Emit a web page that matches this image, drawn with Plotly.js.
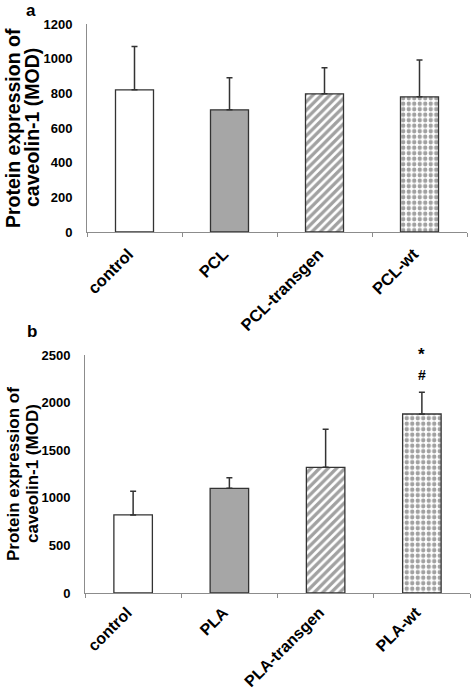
<!DOCTYPE html>
<html>
<head>
<meta charset="utf-8">
<script src="https://cdn.plot.ly/plotly-3.0.1.min.js"></script>
<style>html,body{margin:0;padding:0;background:#fff;}#chart{width:472px;height:692px;}</style>
</head>
<body>
<div id="chart"></div>
<script>
// ---- data ----
const categoriesA = ['control', 'PCL', 'PCL-transgen', 'PCL-wt'];
const meansA = [820, 705, 797, 780];
const errorsA = [250, 185, 150, 212];
const yTicksA = [0, 200, 400, 600, 800, 1000, 1200];

const categoriesB = ['control', 'PLA', 'PLA-transgen', 'PLA-wt'];
const meansB = [820, 1100, 1320, 1880];
const errorsB = [250, 110, 400, 230];
const yTicksB = [0, 500, 1000, 1500, 2000, 2500];

const sigMarks = ['*', '#'];
const sigCategory = 'PLA-wt';

const yTitleLines = ['Protein expression of', 'caveolin-1 (MOD)'];
const panelLabels = ['a', 'b'];

// ---- styling ----
const W = 472, H = 692;
const FONT = 'Liberation Sans, Arial, sans-serif';
const AXIS = '#8c8c8c';
const EDGE = '#333333';
const px = x => x / W;
const py = y => 1 - y / H;

const fills = ['#ffffff', '#a6a6a6', '#ffffff', '#ffffff'];
const patShape = ['', '', '/', '.'];
const patFg = ['#ffffff', '#a6a6a6', '#3a3a3a', '#555555'];
const patSize = [6, 6, 6, 5.5];
const patSolid = [0.3, 0.3, 0.55, 0.5];

function barTrace(cats, vals, errs, xa, ya) {
  return {
    type: 'bar', x: cats, y: vals, xaxis: xa, yaxis: ya,
    marker: {
      color: fills,
      line: {color: EDGE, width: 1.3},
      pattern: {shape: patShape, fgcolor: patFg, bgcolor: fills, size: patSize, solidity: patSolid, fillmode: 'overlay'}
    },
    error_y: {type: 'data', array: errs, arrayminus: vals.map(() => 0), symmetric: false,
              color: EDGE, thickness: 1.5, width: 3},
    showlegend: false, hoverinfo: 'skip'
  };
}

const data = [
  barTrace(categoriesA, meansA, errorsA, 'x', 'y'),
  barTrace(categoriesB, meansB, errorsB, 'x2', 'y2')
];

const tickFont = {family: FONT, size: 13, color: '#000', weight: 700};

function xAxis(domain, anchor, fs, standoff) {
  return {
    domain: domain, anchor: anchor, type: 'category', range: [-0.5, 3.5],
    showline: true, linecolor: AXIS, linewidth: 1,
    ticks: 'outside', tickson: 'boundaries', ticklen: 4, tickcolor: AXIS, tickwidth: 1,
    tickangle: -45, tickfont: {family: FONT, size: fs, color: '#000', weight: 700},
    showgrid: false, zeroline: false,
    automargin: false, fixedrange: true, ticklabelstandoff: standoff, ticklabelshift: -6
  };
}
function yAxis(domain, anchor, range, tv) {
  return {
    domain: domain, anchor: anchor, range: range, tickvals: tv, ticktext: tv.map(String),
    showline: true, linecolor: AXIS, linewidth: 1, ticks: '',
    tickfont: tickFont, showgrid: false, zeroline: false,
    automargin: false, fixedrange: true, ticklabelstandoff: 11
  };
}

const annotations = [];
// panel labels
annotations.push({text: panelLabels[0], x: px(31), y: py(10), xref: 'paper', yref: 'paper', showarrow: false,
  xanchor: 'center', yanchor: 'middle', font: {family: FONT, size: 17, color: '#000', weight: 700}});
annotations.push({text: panelLabels[1], x: px(32), y: py(331), xref: 'paper', yref: 'paper', showarrow: false,
  xanchor: 'center', yanchor: 'middle', font: {family: FONT, size: 17, color: '#000', weight: 700}});
// y titles
[[128, 19.5], [474, 17]].forEach(([cy, fs]) => {
  [13, 32].forEach((cx, i) => {
    annotations.push({text: yTitleLines[i], x: px(cx), y: py(cy), xref: 'paper', yref: 'paper',
      showarrow: false, textangle: -90, xanchor: 'center', yanchor: 'middle',
      font: {family: FONT, size: fs, color: '#000', weight: 700}});
  });
});
// significance marks above PLA-wt (placed in y2-domain fractions so they may sit above the range)
const yMaxB = yTicksB[yTicksB.length - 1];
const sigIdx = categoriesB.indexOf(sigCategory);
const sigBase = meansB[sigIdx] + errorsB[sigIdx];
[[sigMarks[0], sigBase + 400, 17], [sigMarks[1], sigBase + 180, 14]].forEach(([t, yv, fs]) => {
  annotations.push({text: t, x: sigCategory, y: yv / yMaxB, xref: 'x2', yref: 'y2 domain', showarrow: false,
    xanchor: 'center', yanchor: 'middle', font: {family: FONT, size: fs, color: '#000', weight: 700}});
});

const layout = {
  width: W, height: H, margin: {l: 0, r: 0, t: 0, b: 0},
  paper_bgcolor: '#fff', plot_bgcolor: 'rgba(0,0,0,0)',
  bargap: 0.6, showlegend: false,
  xaxis: xAxis([px(87), px(467)], 'y', 16.5, 5),
  yaxis: yAxis([py(232), py(24)], 'x', [0, 1200], yTicksA),
  xaxis2: xAxis([px(85), px(470)], 'y2', 16, 3),
  yaxis2: yAxis([py(593), py(355)], 'x2', [0, 2500], yTicksB),
  annotations: annotations
};

Plotly.newPlot('chart', data, layout, {displayModeBar: false, staticPlot: true});
</script>
</body>
</html>
